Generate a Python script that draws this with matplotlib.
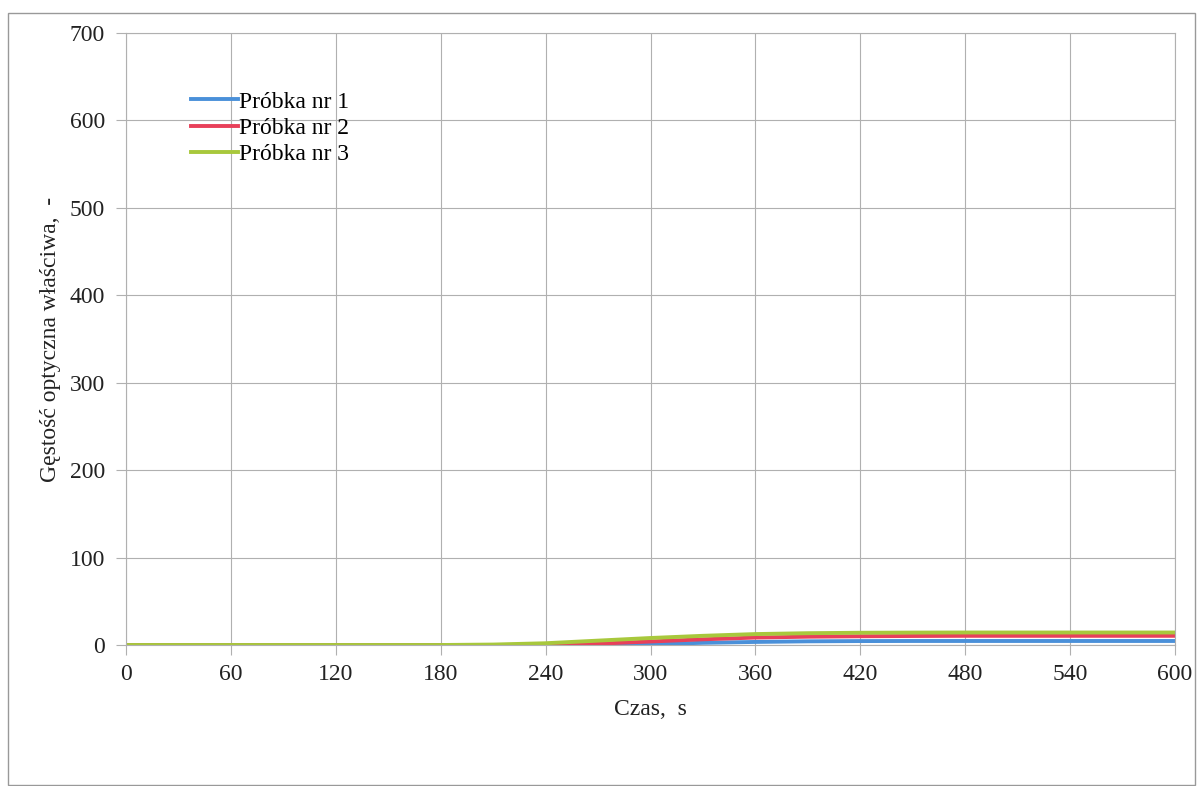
import matplotlib.pyplot as plt
from matplotlib.patches import Rectangle

plt.rcParams['font.family'] = ['Liberation Serif', 'DejaVu Serif']

czas = [0, 30, 60, 90, 120, 150, 180, 210, 240, 270, 300, 330, 360, 390, 420, 450, 480, 510, 540, 570, 600]
probka_1 = [0, 0, 0, 0, 0, 0, 0, 0, 0, 0.3, 1.0, 2.5, 3.5, 4.2, 4.5, 4.6, 4.6, 4.6, 4.6, 4.6, 4.6]
probka_2 = [0, 0, 0, 0, 0, 0, 0, 0, 0.3, 1.5, 4.0, 6.5, 8.5, 9.5, 10.0, 10.3, 10.5, 10.5, 10.5, 10.5, 10.5]
probka_3 = [0, 0, 0, 0, 0, 0, 0, 0.5, 2.0, 5.0, 8.0, 10.5, 12.5, 13.5, 14.0, 14.2, 14.3, 14.3, 14.3, 14.3, 14.3]

fig = plt.figure(figsize=(12.02, 7.86), dpi=100)
ax = fig.add_axes([126/1202, 1 - 645/786, (1175-126)/1202, (645-33)/786])

ax.plot(czas, probka_1, color='#4a90d9', lw=2.8, label='Próbka nr 1')
ax.plot(czas, probka_2, color='#e8405a', lw=2.8, label='Próbka nr 2')
ax.plot(czas, probka_3, color='#a8c83c', lw=2.8, label='Próbka nr 3')

ax.set_xlim(0, 600)
ax.set_ylim(0, 700)
ax.set_xticks(range(0, 601, 60))
ax.set_yticks(range(0, 701, 100))
ax.grid(True, color='#b0b0b0', lw=0.8)
for s in ax.spines.values():
    s.set_color('#b0b0b0')
ax.tick_params(colors='#b0b0b0', labelcolor='#222222', labelsize=17, length=7)
ax.tick_params(axis='x', pad=7)
ax.tick_params(axis='y', pad=8)
ax.set_xlabel('Czas,  s', fontsize=17, color='#222222', labelpad=10)
ax.set_ylabel('Gęstość optyczna właściwa,  -', fontsize=17, color='#222222', labelpad=6)

ax.legend(loc='upper left', bbox_to_anchor=(0.062, 0.905), frameon=False, fontsize=17,
          handlelength=2.0, handletextpad=0.05, labelspacing=0.2, borderpad=0, borderaxespad=0)

fig.patches.append(Rectangle((8/1202, 1/786), 1187/1202, 772/786, transform=fig.transFigure,
                             fill=False, edgecolor='#999999', lw=1))

plt.savefig('out.png')
